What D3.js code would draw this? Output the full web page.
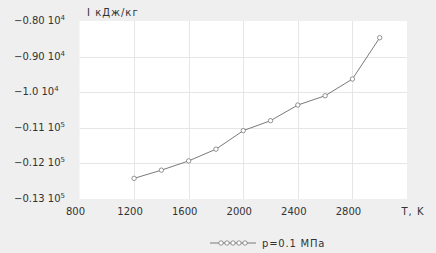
<!DOCTYPE html>
<html>
<head>
<meta charset="utf-8">
<script src="https://cdn.jsdelivr.net/npm/d3@7"></script>
<style>
    body { margin: 0; background: #efefef; }
    svg { display: block; font-family: "DejaVu Sans", sans-serif; }
    .tick-label { fill: #333; font-size: 10px; }
    .grid line { stroke: #e6e6e6; stroke-width: 1; }
</style>
</head>
<body>
<script>
var temps = [1200, 1400, 1600, 1800, 2000, 2200, 2400, 2600, 2800, 3000];
var enthalpy = [-12420, -12190, -11930, -11600, -11080, -10800, -10360, -10100, -9630, -8470];
var xTicks = [800, 1200, 1600, 2000, 2400, 2800];
var yTicks = [-8000, -9000, -10000, -11000, -12000, -13000];
var yTickText = [["\u22120.80", "4"], ["\u22120.90", "4"], ["\u22121.0", "4"], ["\u22120.11", "5"], ["\u22120.12", "5"], ["\u22120.13", "5"]];
var seriesName = "p=0.1 \u041c\u041f\u0430";

var width = 436, height = 253;
var plot = { left: 79.5, right: 407, top: 21, bottom: 199 };

var svg = d3.select("body").append("svg")
    .attr("width", width)
    .attr("height", height);

svg.append("rect")
    .attr("width", width)
    .attr("height", height)
    .attr("fill", "#efefef");

var x = d3.scaleLinear().domain([800, 3200]).range([plot.left, plot.right]);
var y = d3.scaleLinear().domain([-13000, -8000]).range([plot.bottom, plot.top]);

svg.append("rect")
    .attr("x", plot.left)
    .attr("y", plot.top)
    .attr("width", plot.right - plot.left)
    .attr("height", plot.bottom - plot.top)
    .attr("fill", "#fff");

// grid
var grid = svg.append("g").attr("class", "grid");
grid.selectAll(".vx").data(xTicks.slice(1)).enter().append("line")
    .attr("x1", function (d) { return Math.round(x(d)) + 0.5; })
    .attr("x2", function (d) { return Math.round(x(d)) + 0.5; })
    .attr("y1", plot.top)
    .attr("y2", plot.bottom);
grid.selectAll(".hy").data(yTicks.slice(1, -1)).enter().append("line")
    .attr("y1", function (d) { return Math.round(y(d)) + 0.5; })
    .attr("y2", function (d) { return Math.round(y(d)) + 0.5; })
    .attr("x1", plot.left)
    .attr("x2", plot.right);

// x tick labels
svg.selectAll(".xl").data(xTicks).enter().append("text")
    .attr("class", "tick-label")
    .attr("x", function (d) { return x(d) - 4; })
    .attr("y", 215)
    .attr("text-anchor", "middle")
    .text(function (d) { return d; });

svg.append("text")
    .attr("class", "tick-label")
    .attr("x", 413)
    .attr("y", 215)
    .attr("text-anchor", "middle")
    .attr("letter-spacing", "1")
    .text("T,  K");

// y tick labels
var yl = svg.selectAll(".yl").data(yTicks).enter().append("text")
    .attr("class", "tick-label")
    .attr("x", 14)
    .attr("y", function (d) { return y(d) + 3; })
    .attr("font-size", "9.5px");
yl.append("tspan").text(function (d, i) { return yTickText[i][0] + " 10"; });
yl.append("tspan")
    .attr("dy", -4)
    .attr("font-size", "7px")
    .text(function (d, i) { return yTickText[i][1]; });

svg.append("text")
    .attr("class", "tick-label")
    .attr("x", 87)
    .attr("y", 16)
    .attr("font-size", "9.5px")
    .attr("letter-spacing", "1")
    .text("I  \u043a\u0414\u0436/\u043a\u0433");

// series
var line = d3.line()
    .x(function (d, i) { return x(temps[i]); })
    .y(function (d) { return y(d); });

svg.append("path")
    .datum(enthalpy)
    .attr("d", line)
    .attr("fill", "none")
    .attr("stroke", "#7a7a7a")
    .attr("stroke-width", 1);

svg.selectAll(".pt").data(enthalpy).enter().append("circle")
    .attr("cx", function (d, i) { return x(temps[i]); })
    .attr("cy", function (d) { return y(d); })
    .attr("r", 2.2)
    .attr("fill", "#fff")
    .attr("stroke", "#777")
    .attr("stroke-width", 0.8);

// legend
var legend = svg.append("g").attr("transform", "translate(210,243)");
legend.append("line")
    .attr("x1", 0).attr("x2", 46)
    .attr("stroke", "#7a7a7a");
legend.selectAll("circle").data(d3.range(5)).enter().append("circle")
    .attr("cx", function (d) { return 11 + d * 6; })
    .attr("r", 2.2)
    .attr("fill", "#fff")
    .attr("stroke", "#777")
    .attr("stroke-width", 0.8);
legend.append("text")
    .attr("class", "tick-label")
    .attr("x", 52)
    .attr("y", 3.5)
    .attr("letter-spacing", "0.8")
    .text(seriesName);
</script>
</body>
</html>
